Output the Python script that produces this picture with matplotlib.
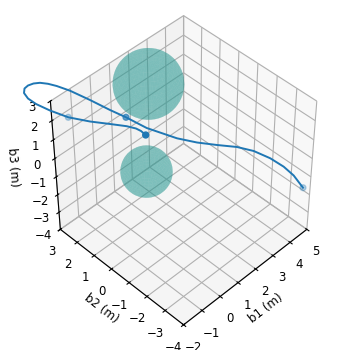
import numpy as np
import matplotlib
matplotlib.use("Agg")
import matplotlib.pyplot as plt
plt.rcParams['font.size'] = 8.5

sphere_cx = [0.1, 0.0]
sphere_cy = [-0.1, 0.0]
sphere_cz = [4.5, 0.0]
sphere_radii = [1.3, 1.0]
sphere_color = '#2a9a94'

b1 = [-0.474, -0.341, -0.273, -0.219, -0.299, -0.396, -0.419, -0.598, -0.771, -0.85, -0.851, -0.799, -0.688, -0.561, -0.457, -0.379, -0.33, -0.253, -0.173, -0.052, 0.241, 0.531, 1.163, 1.757, 2.346, 3.033, 3.555, 3.944, 4.279, 4.504, 4.724]
b2 = [-0.506, -0.116, 0.227, 0.795, 1.641, 2.681, 3.939, 4.818, 5.446, 5.823, 6.046, 6.055, 5.958, 5.762, 5.481, 5.086, 4.622, 3.93, 2.873, 1.886, 1.324, 0.501, -0.484, -0.963, -1.453, -1.859, -2.258, -2.782, -3.198, -3.541, -3.869]
b3 = [2.6, 2.45, 2.3, 2.0, 1.6, 1.1, 0.5, 0.4, 0.45, 0.55, 0.7, 0.9, 1.05, 1.2, 1.35, 1.5, 1.65, 1.8, 1.95, 2.0, 1.8, 1.6, 1.3, 1.0, 0.8, 0.5, 0.2, -0.1, -0.5, -0.9, -1.5]
marker_idx = [0, 6, 20, 30]

fig = plt.figure(figsize=(3.54, 3.5), dpi=100)
ax = fig.add_axes([0.077, 0.074, 0.86, 0.87], projection='3d')
ax.set_box_aspect((1, 1, 1))
ax.view_init(elev=45, azim=-135)
ax.set_xlim(-2, 5); ax.set_ylim(-4, 3); ax.set_zlim(-4, 3)
ax.set_xlabel('b1 (m)', fontsize=8.5); ax.set_ylabel('b2 (m)', fontsize=8.5); ax.set_zlabel('b3 (m)', fontsize=8.5)
ax.tick_params(axis='both', pad=0.5)
ax.tick_params(axis='z', pad=0)
ax.xaxis.labelpad = -3.5; ax.yaxis.labelpad = -3.5; ax.zaxis.labelpad = -2

u = np.linspace(0, 2*np.pi, 40); v = np.linspace(0, np.pi, 25)
for xc, yc, zc, r in zip(sphere_cx, sphere_cy, sphere_cz, sphere_radii):
    ax.plot_surface(xc + r*np.outer(np.cos(u), np.sin(v)), yc + r*np.outer(np.sin(u), np.sin(v)),
                    zc + r*np.outer(np.ones_like(u), np.cos(v)),
                    color=sphere_color, alpha=0.36, linewidth=0, shade=False)

ax.plot(b1, b2, b3, color='#1f77b4', lw=1.4, clip_on=False)
ax.scatter([b1[k] for k in marker_idx], [b2[k] for k in marker_idx], [b3[k] for k in marker_idx],
           color='#1f77b4', s=18, clip_on=False)
fig.savefig('out.png', dpi=100)
